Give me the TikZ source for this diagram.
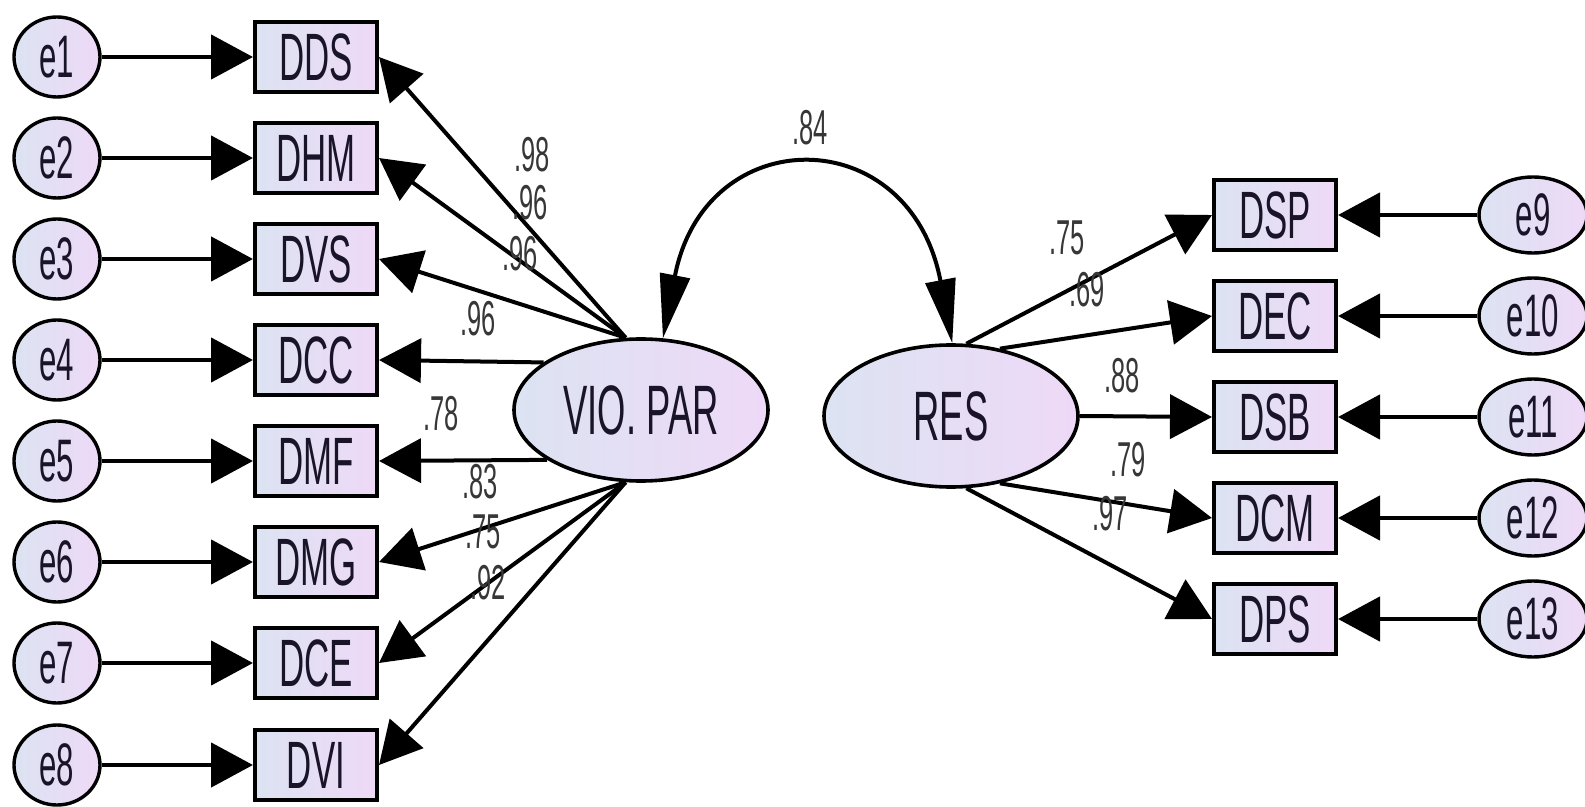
\documentclass[tikz,border=0pt]{standalone}
\usepackage{fontspec}
\setmainfont{Liberation Sans}[FakeStretch=0.52]
\usetikzlibrary{arrows.meta,shapes.geometric}
\definecolor{fillL}{RGB}{220,227,242}
\definecolor{fillR}{RGB}{238,217,247}
\definecolor{txt}{RGB}{25,20,40}
\definecolor{lab}{RGB}{55,55,55}
\newcommand\fbx{\fontsize{33.5}{36}\selectfont}
\newcommand\fel{\fontsize{30}{32}\selectfont}
\newcommand\flt{\fontsize{35}{38}\selectfont}
\newcommand\flb{\fontsize{24.5}{26}\selectfont}
\begin{document}
\begin{tikzpicture}[x=0.5pt,y=-0.5pt,
  obs/.style={draw=black, line width=2pt, rectangle, minimum width=61pt, minimum height=35pt, inner sep=0pt, left color=fillL, right color=fillR, text=txt, font=\fbx},
  err/.style={draw=black, line width=1.7pt, ellipse, minimum width=43pt, minimum height=40pt, inner sep=0pt, left color=fillL, right color=fillR, text=txt, font=\fel},
  errR/.style={err, minimum width=54pt, minimum height=38pt},
  lat/.style={draw=black, line width=1.8pt, ellipse, minimum width=127pt, minimum height=71pt, inner sep=0pt, left color=fillL, right color=fillR, text=txt, font=\flt},
  load/.style={line width=2pt, -{Triangle[length=21pt,width=22pt]}},
  epath/.style={line width=2.4pt, -{Triangle[length=21pt,width=22pt]}},
  cov/.style={line width=2pt, {Triangle[length=32pt,width=15pt]}-{Triangle[length=32pt,width=15pt]}},
  lbl/.style={text=lab, font=\flb, inner sep=0pt}]
\useasboundingbox (0,0) rectangle (1585,807);
\clip (0,0) rectangle (1585,807);

% left error terms and indicators
\node[err] (e1) at (57,57) {e1};
\node[err] (e2) at (57,158) {e2};
\node[err] (e3) at (57,259) {e3};
\node[err] (e4) at (57,360) {e4};
\node[err] (e5) at (57,461) {e5};
\node[err] (e6) at (57,562) {e6};
\node[err] (e7) at (57,663) {e7};
\node[err] (e8) at (57,765) {e8};
\node[obs] (dds) at (316,57) {DDS};
\node[obs] (dhm) at (316,158) {DHM};
\node[obs] (dvs) at (316,259) {DVS};
\node[obs] (dcc) at (316,360) {DCC};
\node[obs] (dmf) at (316,461) {DMF};
\node[obs] (dmg) at (316,562) {DMG};
\node[obs] (dce) at (316,663) {DCE};
\node[obs] (dvi) at (316,765) {DVI};

% latent variables
\node[lat] (vio) at (641,410) {VIO. PAR};
\node[lat] (res) at (951,416) {RES};

% right indicators and error terms
\node[obs] (dsp) at (1275,215) {DSP};
\node[obs] (dec) at (1275,316) {DEC};
\node[obs] (dsb) at (1275,417) {DSB};
\node[obs] (dcm) at (1275,518) {DCM};
\node[obs] (dps) at (1275,619) {DPS};
\node[errR] (e9) at (1533,215) {e9};
\node[errR] (e10) at (1533,316) {e10};
\node[errR] (e11) at (1533,417) {e11};
\node[errR] (e12) at (1533,518) {e12};
\node[errR] (e13) at (1533,619) {e13};

% error paths
\foreach \a/\b in {e1/dds,e2/dhm,e3/dvs,e4/dcc,e5/dmf,e6/dmg,e7/dce,e8/dvi,e9/dsp,e10/dec,e11/dsb,e12/dcm,e13/dps}
  \draw[epath] (\a) -- (\b);

% loadings
\draw[load] (vio.102) -- (dds.east);
\draw[load] (vio.102) -- (dhm.east);
\draw[load] (vio.102) -- (dvs.east);
\draw[load] (vio.154) -- (dcc.east);
\draw[load] (vio.208) -- (dmf.east);
\draw[load] (vio.258) -- (dmg.east);
\draw[load] (vio.258) -- (dce.east);
\draw[load] (vio.258) -- (dvi.east);
\draw[load] (res.78) -- (dsp.west);
\draw[load] (res.54) -- (dec.west);
\draw[load] (res.east) -- (dsb.west);
\draw[load] (res.-54) -- (dcm.west);
\draw[load] (res.-78) -- (dps.west);

% covariance
\draw[cov] (vio.73) .. controls (705,120) and (910,120) .. (res.89);

% labels
\node[lbl] (l1) at (532,155) {.98};
\node[lbl] (l2) at (530,203) {.96};
\node[lbl] (l3) at (520,254) {.96};
\node[lbl] (l4) at (478,319) {.96};
\node[lbl] (l5) at (441,414) {.78};
\node[lbl] (l6) at (480,482) {.83};
\node[lbl] (l7) at (483,532) {.75};
\node[lbl] (l8) at (488,583) {.92};
\node[lbl] (l9) at (810,128) {.84};
\node[lbl] (l10) at (1067,238) {.75};
\node[lbl] (l11) at (1087,290) {.69};
\node[lbl] (l12) at (1122,376) {.88};
\node[lbl] (l13) at (1128,460) {.79};
\node[lbl] (l14) at (1110,514) {.97};
\end{tikzpicture}
\end{document}
